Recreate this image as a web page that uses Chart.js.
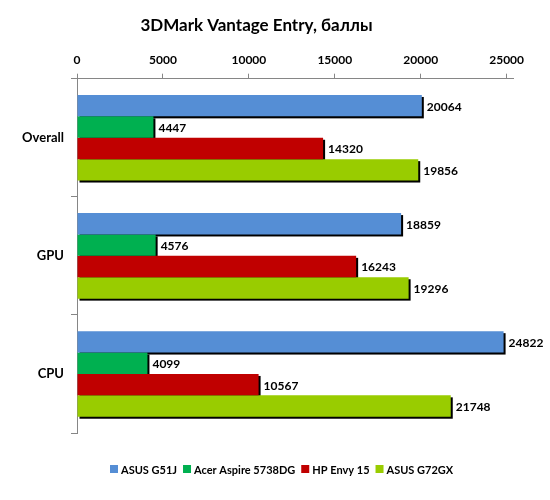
<!DOCTYPE html>
<html>
<head>
<meta charset="utf-8">
<script src="https://cdn.jsdelivr.net/npm/chart.js@4.4.1/dist/chart.umd.min.js"></script>
<style>
  html, body { margin: 0; padding: 0; background: #ffffff; }
  #wrap { width: 550px; height: 500px; }
</style>
</head>
<body>
<div id="wrap"><canvas id="c" width="550" height="500"></canvas></div>
<script>
const titleText = '3DMark Vantage Entry, баллы';
const categories = ['Overall', 'GPU', 'CPU'];
const seriesNames = ['ASUS G51J', 'Acer Aspire 5738DG', 'HP Envy 15', 'ASUS G72GX'];
const asusG51J = [20064, 18859, 24822];
const acerAspire = [4447, 4576, 4099];
const hpEnvy = [14320, 16243, 10567];
const asusG72GX = [19856, 19296, 21748];
const xTickValues = [0, 5000, 10000, 15000, 20000, 25000];
const colors = ['#558ED5', '#00B050', '#C00000', '#99CC00'];

const FONT = 'Lato, "Open Sans", "Liberation Sans", sans-serif';

const shadowPlugin = {
  id: 'barShadow',
  beforeDatasetsDraw(chart) {
    const ctx = chart.ctx;
    ctx.save();
    ctx.fillStyle = '#000000';
    chart.data.datasets.forEach((ds, i) => {
      const meta = chart.getDatasetMeta(i);
      meta.data.forEach(el => {
        const p = el.getProps(['x', 'y', 'base', 'height'], true);
        ctx.fillRect(p.base + 2, p.y - p.height / 2 + 2, p.x - p.base, p.height);
      });
    });
    ctx.restore();
  }
};

const valueLabelPlugin = {
  id: 'valueLabels',
  afterDatasetsDraw(chart) {
    const ctx = chart.ctx;
    ctx.save();
    ctx.font = 'bold 12px ' + FONT;
    ctx.fillStyle = '#000000';
    ctx.textAlign = 'left';
    ctx.textBaseline = 'middle';
    chart.data.datasets.forEach((ds, i) => {
      const meta = chart.getDatasetMeta(i);
      meta.data.forEach((el, j) => {
        const p = el.getProps(['x', 'y'], true);
        ctx.fillText(String(ds.data[j]), p.x + 5, p.y + 1);
      });
    });
    ctx.restore();
  }
};

const legendPlugin = {
  id: 'customLegend',
  afterDraw(chart) {
    const ctx = chart.ctx;
    ctx.save();
    ctx.font = 'bold 11px ' + FONT;
    ctx.textAlign = 'left';
    ctx.textBaseline = 'middle';
    let x = 110;
    const yc = 469;
    chart.data.datasets.forEach((ds, i) => {
      ctx.fillStyle = ds.backgroundColor;
      ctx.fillRect(x, yc - 4, 8, 8);
      ctx.fillStyle = '#000000';
      ctx.fillText(ds.label, x + 11, yc + 1);
      x += 11 + ctx.measureText(ds.label).width + 6;
    });
    ctx.restore();
  }
};

const datasets = [asusG51J, acerAspire, hpEnvy, asusG72GX].map((d, i) => ({
  label: seriesNames[i],
  data: d,
  backgroundColor: colors[i],
  borderWidth: 0,
  categoryPercentage: 0.7245,
  barPercentage: 1.0
}));

new Chart(document.getElementById('c'), {
  type: 'bar',
  data: { labels: categories, datasets: datasets },
  plugins: [shadowPlugin, valueLabelPlugin, legendPlugin],
  options: {
    indexAxis: 'y',
    responsive: false,
    animation: false,
    layout: { padding: { left: 0, right: 37, top: 0, bottom: 67 } },
    plugins: {
      title: {
        display: true,
        text: titleText,
        color: '#000000',
        font: { family: FONT, size: 17, weight: 'bold' },
        padding: { top: 15, bottom: 1 }
      },
      legend: { display: false },
      tooltip: { enabled: false }
    },
    scales: {
      x: {
        position: 'top',
        min: 0,
        max: 25370,
        afterBuildTicks(scale) {
          scale.ticks = xTickValues.map(v => ({ value: v }));
        },
        afterFit(scale) { scale.height = 42.3; },
        grid: { drawOnChartArea: false, drawTicks: true, tickLength: 5, color: '#868686' },
        border: { color: '#868686', width: 1 },
        ticks: {
          color: '#000000',
          padding: 6,
          maxRotation: 0,
          callback: (v) => String(v),
          font: { family: FONT, size: 12, weight: 'bold' }
        }
      },
      y: {
        afterFit(scale) { scale.width = 77; },
        grid: { drawOnChartArea: false, drawTicks: true, tickLength: 6, color: '#868686', offset: true },
        border: { color: '#868686', width: 1 },
        ticks: {
          color: '#000000',
          padding: 7,
          font: { family: FONT, size: 13, weight: 'bold' }
        }
      }
    }
  }
});
</script>
</body>
</html>
